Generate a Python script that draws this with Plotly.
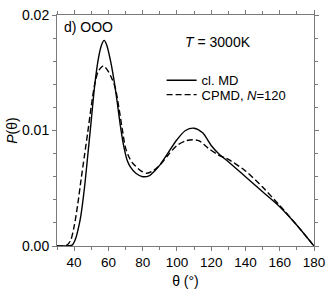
import plotly.graph_objects as go

# Angles (degrees) and P(theta) values
theta_md = [30, 35, 37, 39, 41, 43, 44, 46, 48, 50, 52, 54, 56, 57.5, 59, 61, 63, 65, 67, 69, 71, 73,
            76, 80, 84, 87, 90, 95, 100, 105, 110, 115, 120, 125, 130, 140, 150, 160, 170, 180]
p_md = [0, 0, 0.00002, 0.0001, 0.0007, 0.0019, 0.0027, 0.0050, 0.0079, 0.0109, 0.0139, 0.0161, 0.0174,
        0.0178, 0.0174, 0.0162, 0.0146, 0.0126, 0.0104, 0.0086, 0.0074, 0.0068,
        0.0063, 0.0060, 0.0061, 0.0065, 0.0070, 0.0081, 0.0092, 0.0100, 0.0102, 0.0098, 0.0087, 0.0079,
        0.0073, 0.0060, 0.0047, 0.0034, 0.0018, 0.0]

theta_cp = [30, 33, 36, 38, 40, 42, 44, 46, 48, 50, 52, 54, 56, 57, 58, 60, 62, 64, 66, 68, 70, 72,
            74, 76, 79, 82.5, 86, 90, 95, 100, 105, 109, 113, 118, 124, 130, 140, 150, 160, 170, 180]
p_cp = [0, 0, 0.0001, 0.0005, 0.0017, 0.0035, 0.0057, 0.0078, 0.0099, 0.0121, 0.0140, 0.0151, 0.0155,
        0.0156, 0.0155, 0.0151, 0.0145, 0.0137, 0.0121, 0.0102, 0.0085, 0.0077,
        0.0072, 0.0069, 0.0065, 0.0063, 0.0065, 0.0070, 0.0079, 0.0087, 0.0091, 0.0092, 0.0091, 0.0085,
        0.0079, 0.0075, 0.0065, 0.0051, 0.0035, 0.0018, 0.0]

x_ticks = [40, 60, 80, 100, 120, 140, 160, 180]
y_ticks = [0.0, 0.01, 0.02]
y_tick_labels = ["0.00", "0.01", "0.02"]

FONT = "Liberation Sans, Arial, sans-serif"
AXC = "#7a7a7a"

fig = go.Figure()
fig.add_trace(go.Scatter(x=theta_md, y=p_md, mode="lines", name="cl. MD", legend="legend",
                         line=dict(color="black", width=1.4, shape="spline", smoothing=0.8)))
fig.add_trace(go.Scatter(x=theta_cp, y=p_cp, mode="lines", name="CPMD, <i>N</i>=120", legend="legend2",
                         line=dict(color="black", width=1.4, dash="6px,3px", shape="spline", smoothing=0.8)))

leg_common = dict(xanchor="left", yanchor="middle", bgcolor="rgba(0,0,0,0)", borderwidth=0,
                  font=dict(size=13), itemwidth=30)

fig.update_layout(
    width=332, height=293,
    margin=dict(l=56.5, r=13.3, t=6.7, b=39.7),
    paper_bgcolor="white", plot_bgcolor="white",
    font=dict(family=FONT, size=14, color="black"),
    showlegend=True,
    legend=dict(x=0.407, y=0.717, **leg_common),
    legend2=dict(x=0.407, y=0.655, **leg_common),
    xaxis=dict(range=[30, 180], tickvals=x_ticks, ticks="outside", ticklen=4, tickcolor=AXC,
               showline=True, linecolor=AXC, linewidth=1, mirror="ticks", showgrid=False, zeroline=False,
               tickfont=dict(size=13.5),
               minor=dict(dtick=10, tick0=30, ticks="outside", ticklen=3, tickcolor=AXC),
               title=dict(text="θ (°)", font=dict(size=14), standoff=6)),
    yaxis=dict(range=[0, 0.02], tickvals=y_ticks, ticktext=y_tick_labels, ticks="outside", ticklen=4,
               tickcolor=AXC, showline=True, linecolor=AXC, linewidth=1, mirror="ticks",
               showgrid=False, zeroline=False, tickfont=dict(size=14),
               minor=dict(dtick=0.002, tick0=0, ticks="outside", ticklen=3, tickcolor=AXC),
               title=dict(text="<i>P</i>(θ)", font=dict(size=14), standoff=1)),
    annotations=[
        dict(text="d) OOO", x=0.021, y=0.946, xref="paper", yref="paper", xanchor="left",
             yanchor="middle", showarrow=False, font=dict(size=14)),
        dict(text="<i>T</i> = 3000K", x=0.49, y=0.885, xref="paper", yref="paper", xanchor="left",
             yanchor="middle", showarrow=False, font=dict(size=14)),
    ],
)

fig.write_html("out.html", config={"displayModeBar": False},
               post_script="document.body.style.margin='0px';")
